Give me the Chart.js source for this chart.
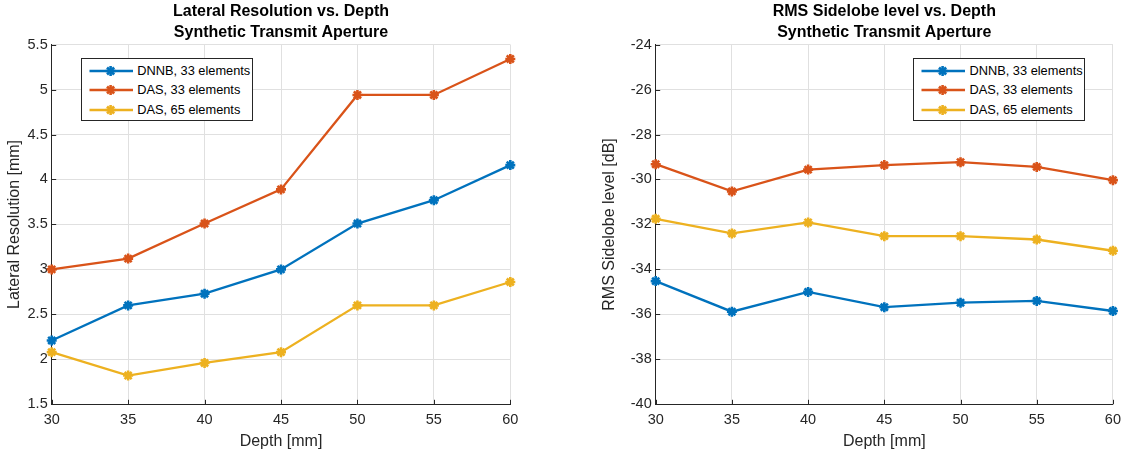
<!DOCTYPE html>
<html><head><meta charset="utf-8">
<script src="https://cdn.jsdelivr.net/npm/chart.js@4.4.0/dist/chart.umd.min.js"></script>
<style>
html,body{margin:0;padding:0;background:#fff;}
body{width:1128px;height:457px;position:relative;overflow:hidden;font-family:"Liberation Sans",Arial,sans-serif;}
canvas{position:absolute;top:0;}
.legend{position:absolute;background:#fff;border:1px solid #262626;box-sizing:border-box;}
.item{position:absolute;left:0;height:20px;width:100%;}
.item svg{position:absolute;left:7px;top:0;}
.item span{position:absolute;left:55.5px;top:0;line-height:20px;font-size:12.8px;color:#000;white-space:nowrap;}
</style></head>
<body>
<canvas id="c1" width="560" height="457" style="left:0px"></canvas>
<canvas id="c2" width="568" height="457" style="left:560px"></canvas>
<div id="lg1" class="legend" style="left:80.7px;top:58.3px;width:172.3px;height:62.4px"></div>
<div id="lg2" class="legend" style="left:913px;top:58.3px;width:172.3px;height:62.4px"></div>
<script>
const depths=[30,35,40,45,50,55,60];
const xTicks=[30,35,40,45,50,55,60];
const latTicks=[1.5,2,2.5,3,3.5,4,4.5,5,5.5];
const sllTicks=[-40,-38,-36,-34,-32,-30,-28,-26,-24];
const seriesNames=['DNNB, 33 elements','DAS, 33 elements','DAS, 65 elements'];
const seriesColors=['#0072BD','#D95319','#EDB120'];

const latDNNB=[2.21,2.60,2.73,3.00,3.51,3.77,4.16];
const latDAS33=[3.00,3.12,3.51,3.89,4.94,4.94,5.34];
const latDAS65=[2.08,1.82,1.96,2.08,2.60,2.60,2.86];

const sllDNNB=[-34.52,-35.88,-35.00,-35.68,-35.48,-35.40,-35.85];
const sllDAS33=[-29.32,-30.53,-29.56,-29.36,-29.23,-29.44,-30.03];
const sllDAS65=[-31.75,-32.40,-31.91,-32.52,-32.52,-32.67,-33.17];

const F='"Liberation Sans", Arial, sans-serif';
const AX='#262626';
const GRID='#e0e0e0';

function makeDatasets(arrs){
  return arrs.map((a,i)=>({
    label:seriesNames[i],
    data:depths.map((d,j)=>({x:d,y:a[j]})),
    borderColor:seriesColors[i],
    backgroundColor:seriesColors[i],
    borderWidth:2.3,
    pointStyle:'star',
    pointRadius:5,
    pointBorderWidth:2.6,
    pointHoverRadius:5,
    tension:0,
    clip:false
  }));
}

const innerTicks={
  id:'innerTicks',
  beforeDatasetsDraw(chart){
    const {ctx,chartArea:a,scales}=chart;
    ctx.save();
    ctx.strokeStyle=AX;ctx.lineWidth=1;
    ctx.beginPath();
    scales.x.ticks.forEach(t=>{
      const px=Math.round(scales.x.getPixelForValue(t.value))+0.5;
      ctx.moveTo(px,a.bottom);ctx.lineTo(px,a.bottom-4.5);
    });
    scales.y.ticks.forEach(t=>{
      const py=Math.round(scales.y.getPixelForValue(t.value))+0.5;
      ctx.moveTo(a.left,py);ctx.lineTo(a.left+4.5,py);
    });
    ctx.stroke();
    ctx.restore();
  }
};

function makeChart(id,arrs,yTicks,yTitle,title,padL,yW,padR){
  return new Chart(document.getElementById(id),{
    type:'line',
    data:{datasets:makeDatasets(arrs)},
    plugins:[innerTicks],
    options:{
      responsive:false,animation:false,devicePixelRatio:1,
      layout:{padding:{left:padL,right:padR,top:0,bottom:0}},
      plugins:{
        legend:{display:false},
        tooltip:{enabled:false},
        title:{display:true,fullSize:false,text:title,color:'#000',
          font:{family:F,size:16,weight:'bold',lineHeight:1.3},padding:{top:1,bottom:2}}
      },
      scales:{
        x:{type:'linear',min:xTicks[0],max:xTicks[xTicks.length-1],
          afterBuildTicks:s=>{s.ticks=xTicks.map(v=>({value:v}));},
          afterFit:s=>{s.height=52.7;},
          grid:{color:GRID,drawTicks:false},
          border:{display:true,color:AX,width:1},
          ticks:{color:AX,font:{family:F,size:14.5},padding:7,maxRotation:0,autoSkip:false,
            callback:v=>String(v)},
          title:{display:true,text:'Depth [mm]',color:AX,font:{family:F,size:16},padding:{top:0,bottom:5.4}}
        },
        y:{type:'linear',min:yTicks[0],max:yTicks[yTicks.length-1],
          afterBuildTicks:s=>{s.ticks=yTicks.map(v=>({value:v}));},
          afterFit:s=>{s.width=yW;},
          grid:{color:GRID,drawTicks:false},
          border:{display:true,color:AX,width:1},
          ticks:{color:AX,font:{family:F,size:14.5},padding:4,autoSkip:false,
            callback:v=>String(v)},
          title:{display:true,text:yTitle,color:AX,font:{family:F,size:16},padding:{top:5,bottom:0}}
        }
      }
    }
  });
}

makeChart('c1',[latDNNB,latDAS33,latDAS65],latTicks,'Lateral Resolution [mm]',
  ['Lateral Resolution vs. Depth','Synthetic Transmit Aperture'],0,51.7,49.7);
makeChart('c2',[sllDNNB,sllDAS33,sllDAS65],sllTicks,'RMS Sidelobe level [dB]',
  ['RMS Sidelobe level vs. Depth','Synthetic Transmit Aperture'],34.5,61.2,14.7);

function buildLegend(id){
  const el=document.getElementById(id);
  const ns='http://www.w3.org/2000/svg';
  seriesNames.forEach((name,i)=>{
    const row=document.createElement('div');
    row.className='item';
    row.style.top=(1.5+i*19.7)+'px';
    const svg=document.createElementNS(ns,'svg');
    svg.setAttribute('width','46');svg.setAttribute('height','20');
    const c=seriesColors[i];
    const mk=(x1,y1,x2,y2,w)=>{const l=document.createElementNS(ns,'line');
      l.setAttribute('x1',x1);l.setAttribute('y1',y1);l.setAttribute('x2',x2);l.setAttribute('y2',y2);
      l.setAttribute('stroke',c);l.setAttribute('stroke-width',w);svg.appendChild(l);};
    mk(0.5,10,44,10,2.3);
    const cx=21.6,cy=10,r=5,d=r*Math.SQRT1_2;
    mk(cx-r,cy,cx+r,cy,2.6);mk(cx,cy-r,cx,cy+r,2.6);
    mk(cx-d,cy-d,cx+d,cy+d,2.6);mk(cx-d,cy+d,cx+d,cy-d,2.6);
    row.appendChild(svg);
    const sp=document.createElement('span');sp.textContent=name;row.appendChild(sp);
    el.appendChild(row);
  });
}
buildLegend('lg1');buildLegend('lg2');
</script>
</body></html>
